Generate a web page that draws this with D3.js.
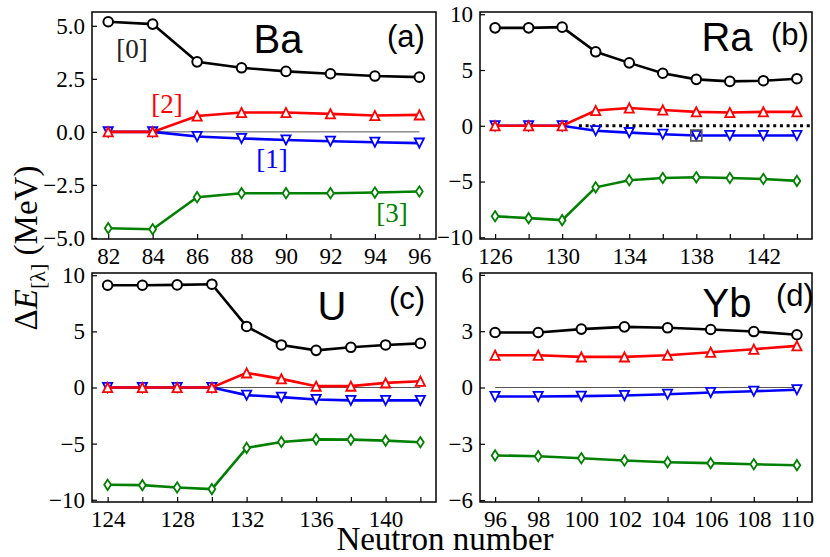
<!DOCTYPE html>
<meta charset="utf-8">
<style>
    body { margin: 0; background: #fff; }
    svg text { font-family: "Liberation Serif", "Times New Roman", serif; }
</style>
<body>
<script src="https://cdnjs.cloudflare.com/ajax/libs/d3/7.8.5/d3.min.js"></script>
<script>

// --- data ---
var baN  = [82, 84, 86, 88, 90, 92, 94, 96];
var ba0  = [5.19, 5.08, 3.30, 3.02, 2.85, 2.74, 2.63, 2.58];
var ba1  = [0, 0, -0.22, -0.31, -0.38, -0.44, -0.49, -0.53];
var ba2  = [0, 0, 0.75, 0.91, 0.91, 0.85, 0.77, 0.80];
var ba3  = [-4.54, -4.59, -3.08, -2.89, -2.89, -2.89, -2.86, -2.81];

var raN  = [126, 128, 130, 132, 134, 136, 138, 140, 142, 144];
var ra0  = [8.78, 8.78, 8.84, 6.63, 5.64, 4.71, 4.16, 3.98, 4.04, 4.22];
var ra1  = [0, 0, 0, -0.44, -0.61, -0.76, -0.87, -0.87, -0.87, -0.87];
var ra2  = [0, 0, 0, 1.37, 1.60, 1.42, 1.25, 1.19, 1.25, 1.25];
var ra3  = [-8.11, -8.28, -8.46, -5.52, -4.88, -4.68, -4.62, -4.68, -4.77, -4.94];

var uN   = [124, 126, 128, 130, 132, 134, 136, 138, 140, 142];
var u0   = [9.11, 9.11, 9.14, 9.20, 5.44, 3.79, 3.31, 3.58, 3.79, 3.93];
var u1   = [0, 0, 0, 0, -0.68, -0.86, -1.07, -1.15, -1.15, -1.15];
var u2   = [0, 0, 0, 0, 1.30, 0.77, 0.12, 0.12, 0.41, 0.56];
var u3   = [-8.67, -8.70, -8.91, -9.05, -5.38, -4.85, -4.62, -4.64, -4.73, -4.88];

var ybN  = [96, 98, 100, 102, 104, 106, 108, 110];
var yb0  = [2.93, 2.93, 3.11, 3.23, 3.18, 3.09, 2.98, 2.81];
var yb1  = [-0.48, -0.48, -0.46, -0.43, -0.36, -0.27, -0.20, -0.12];
var yb2  = [1.72, 1.72, 1.63, 1.63, 1.72, 1.88, 2.04, 2.22];
var yb3  = [-3.62, -3.66, -3.77, -3.89, -3.98, -4.03, -4.09, -4.14];

var baYTicks = [-5, -2.5, 0, 2.5, 5];
var raYTicks = [-10, -5, 0, 5, 10];
var uYTicks  = [-10, -5, 0, 5, 10];
var ybYTicks = [-6, -3, 0, 3, 6];
var raXLabels = [126, 130, 134, 138, 142];
var uXLabels  = [124, 128, 132, 136, 140];

var colors = ["#000000", "#0000ff", "#ff0000", "#008000"];
var serif = "Liberation Serif, Times New Roman, serif";
var sans = "Liberation Sans, Arial, sans-serif";

var svg = d3.select("body").append("svg")
    .attr("width", 830)
    .attr("height", 557);

function markerPath(kind) {
  var h = 4.6;
  if (kind == 0) return null;
  if (kind == 2) return "M0," + (-h) + "L" + (-h) + "," + h + "L" + h + "," + h + "Z";
  if (kind == 1) return "M0," + h + "L" + (-h) + "," + (-h) + "L" + h + "," + (-h) + "Z";
  return "M0," + (-5.2) + "L3.4,0L0,5.2L-3.4,0Z";
}

function styleAxis(a) {
  a.select(".domain").remove();
  a.selectAll("line").attr("stroke-width", 1.2);
  a.attr("font-family", serif).attr("font-size", 23);
  a.selectAll("text").attr("font-family", serif).attr("fill", "#000");
}

function panel(p) {
  var g = svg.append("g");
  var x = d3.scaleLinear().domain(p.xdom).range([p.x0, p.x1]);
  var y = d3.scaleLinear().domain(p.ydom).range([p.y1, p.y0]);

  var clipId = "clip" + p.tag;
  svg.append("clipPath").attr("id", clipId)
    .append("rect").attr("x", p.x0).attr("y", p.y0)
    .attr("width", p.x1 - p.x0).attr("height", p.y1 - p.y0);

  var xAxis = d3.axisBottom(x)
      .tickValues(p.xticks)
      .tickSize(-5)
      .tickPadding(9)
      .tickFormat(function(d) { return p.xlabels.indexOf(d) >= 0 ? d : ""; });
  g.append("g").attr("transform", "translate(0," + p.y1 + ")").call(xAxis).call(styleAxis);

  var yAxis = d3.axisLeft(y)
      .tickValues(p.yticks)
      .tickSize(-5)
      .tickPadding(7)
      .tickFormat(p.yfmt);
  g.append("g").attr("transform", "translate(" + p.x0 + ",0)").call(yAxis).call(styleAxis);

  var plot = g.append("g").attr("clip-path", "url(#" + clipId + ")");

  if (p.dotted) {
    plot.append("line")
      .attr("x1", x(p.dotted[0])).attr("x2", x(p.dotted[1]))
      .attr("y1", y(0)).attr("y2", y(0))
      .attr("stroke", "#000").attr("stroke-width", 3)
      .attr("stroke-dasharray", "3,3.7");
  } else {
    plot.append("line")
      .attr("x1", x(p.n[0])).attr("x2", x(p.n[p.n.length - 1]))
      .attr("y1", y(0)).attr("y2", y(0))
      .attr("stroke", "#555").attr("stroke-width", 1);
  }

  var line = d3.line().x(function(d) { return x(d[0]); }).y(function(d) { return y(d[1]); });

  // draw order: [3], [1], [2], [0]
  [3, 1, 2, 0].forEach(function(k) {
    var pts = p.n.map(function(n, i) { return [n, p.series[k][i]]; });
    plot.append("path").datum(pts)
      .attr("d", line)
      .attr("fill", "none")
      .attr("stroke", colors[k])
      .attr("stroke-width", 2.6);
    if (k == 0) {
      plot.selectAll(null).data(pts).enter().append("circle")
        .attr("cx", function(d) { return x(d[0]); })
        .attr("cy", function(d) { return y(d[1]); })
        .attr("r", 4.8)
        .attr("fill", "#fff").attr("stroke", colors[k]).attr("stroke-width", 2);
    } else {
      plot.selectAll(null).data(pts).enter().append("path")
        .attr("d", markerPath(k))
        .attr("transform", function(d) { return "translate(" + x(d[0]) + "," + y(d[1]) + ")"; })
        .attr("fill", "#fff").attr("stroke", colors[k]).attr("stroke-width", 1.8);
    }
  });

  if (p.square) {
    plot.append("rect")
      .attr("x", x(p.square[0]) - 5.5).attr("y", y(p.square[1]) - 5.5)
      .attr("width", 11).attr("height", 11)
      .attr("fill", "none").attr("stroke", "#555").attr("stroke-width", 1.6);
  }

  g.append("rect")
    .attr("x", p.x0).attr("y", p.y0)
    .attr("width", p.x1 - p.x0).attr("height", p.y1 - p.y0)
    .attr("fill", "none").attr("stroke", "#000").attr("stroke-width", 1.5);

  g.append("text")
    .attr("x", p.title[1]).attr("y", p.title[2])
    .attr("text-anchor", "middle")
    .style("font-family", sans)
    .style("font-size", "40px")
    .text(p.title[0]);
  g.append("text")
    .attr("x", p.tagPos[0]).attr("y", p.tagPos[1])
    .attr("text-anchor", "middle")
    .style("font-family", sans)
    .style("font-size", "31px")
    .text("(" + p.tag + ")");
}

function range(a, b, s) { return d3.range(a, b + 0.01, s); }

panel({ tag: "a", n: baN, series: [ba0, ba1, ba2, ba3],
  x0: 92, x1: 436, y0: 12, y1: 239,
  xdom: [81.27, 96.75], ydom: [-5.05, 5.65],
  xticks: range(82, 96, 2), xlabels: range(82, 96, 2),
  yticks: baYTicks, yfmt: d3.format(".1f"),
  title: ["Ba", 278, 53], tagPos: [406, 47] });

panel({ tag: "b", n: raN, series: [ra0, ra1, ra2, ra3],
  x0: 480, x1: 812, y0: 12, y1: 239,
  xdom: [125.1, 144.9], ydom: [-10.15, 10.2],
  xticks: range(126, 144, 2), xlabels: raXLabels,
  yticks: raYTicks, yfmt: d3.format("d"),
  dotted: [131, 145], square: [138, -0.87],
  title: ["Ra", 727, 51], tagPos: [790, 45] });

panel({ tag: "c", n: uN, series: [u0, u1, u2, u3],
  x0: 92, x1: 436, y0: 273, y1: 502,
  xdom: [123.1, 142.9], ydom: [-10.2, 10.2],
  xticks: range(124, 142, 2), xlabels: uXLabels,
  yticks: uYTicks, yfmt: d3.format("d"),
  title: ["U", 332, 320], tagPos: [407, 309] });

panel({ tag: "d", n: ybN, series: [yb0, yb1, yb2, yb3],
  x0: 480, x1: 812, y0: 273, y1: 502,
  xdom: [95.3, 110.7], ydom: [-6.1, 6.1],
  xticks: range(96, 110, 2), xlabels: range(96, 110, 2),
  yticks: ybYTicks, yfmt: d3.format("d"),
  title: ["Yb", 727, 317], tagPos: [795, 306] });

// series labels in panel (a)
var seriesLabels = [
  { t: "[0]", x: 132, y: 58, c: "#222" },
  { t: "[1]", x: 272, y: 168, c: colors[1] },
  { t: "[2]", x: 167, y: 113, c: colors[2] },
  { t: "[3]", x: 392, y: 222, c: colors[3] }
];
svg.selectAll(null).data(seriesLabels).enter().append("text")
  .attr("x", function(d) { return d.x; })
  .attr("y", function(d) { return d.y; })
  .attr("text-anchor", "middle")
  .style("font-size", "27px")
  .attr("fill", function(d) { return d.c; })
  .text(function(d) { return d.t; });

// axis titles
svg.append("text")
  .attr("x", 445).attr("y", 550)
  .attr("text-anchor", "middle")
  .style("font-size", "33px")
  .text("Neutron number");

var yl = svg.append("text")
  .attr("transform", "translate(37,248) rotate(-90)")
  .attr("text-anchor", "middle")
  .style("font-size", "33px");
yl.append("tspan").text("Δ");
yl.append("tspan").style("font-style", "italic").text("E");
yl.append("tspan").attr("dy", 8).style("font-size", "22px").text("[λ]");
yl.append("tspan").attr("dy", -8).text(" (MeV)");

</script>
</body>
